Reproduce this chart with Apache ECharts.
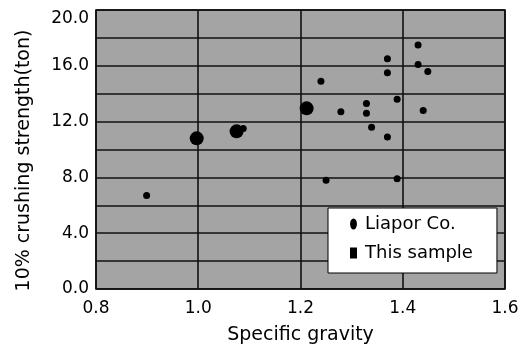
<!DOCTYPE html>
<html>
<head>
<meta charset="utf-8">
<script src="https://cdn.jsdelivr.net/npm/echarts@6/dist/echarts.min.js"></script>
<style>
  html, body { margin: 0; padding: 0; background: #fff; }
  #chart { width: 526px; height: 352px; }
</style>
</head>
<body>
<div id="chart"></div>
<script>
var myChart = echarts.init(document.getElementById("chart"));

// Liapor Co. (small dots)
var liaporX = [0.899, 1.088, 1.240, 1.250, 1.279, 1.329, 1.329, 1.339, 1.370, 1.370, 1.370, 1.389, 1.389, 1.430, 1.430, 1.440, 1.449];
var liaporY = [6.7, 11.5, 14.9, 7.8, 12.7, 13.3, 12.6, 11.6, 16.5, 15.5, 10.9, 13.6, 7.9, 17.5, 16.1, 12.8, 15.6];

// This sample (large dots)
var sampleX = [0.997, 1.075, 1.212];
var sampleY = [10.8, 11.3, 12.95];

var xTicks = [0.8, 1.0, 1.2, 1.4, 1.6];
var yTicks = [0, 4, 8, 12, 16, 20];

var pair = function(xs, ys) {
	var res = [];
	for (var i = 0; i < xs.length; i++) {
		res.push([xs[i], ys[i]]);
	}
	return res;
};

var ellipse = 'path://M5,0 A5,8 0 1,1 5,16 A5,8 0 1,1 5,0 Z';
var font = "DejaVu Sans";

var option = {
	backgroundColor: "#ffffff",
	animation: false,
	textStyle: { fontFamily: font },
	grid: {
		left: 96,
		right: 21,
		top: 10,
		bottom: 63,
		show: true,
		backgroundColor: "#a4a4a4",
		borderColor: "#000",
		borderWidth: 1.5
	},
	legend: {
		orient: "vertical",
		left: 328,
		top: 208,
		backgroundColor: "#fff",
		borderColor: "#000",
		borderWidth: 1,
		padding: [7, 24, 11, 22],
		itemGap: 11,
		itemWidth: 7,
		itemHeight: 11,
		textStyle: { fontFamily: font, fontSize: 18, color: "#000", padding: [0, 0, 0, 3] },
		data: [
			{ name: "Liapor Co.", icon: ellipse },
			{ name: "This sample", icon: "rect" }
		]
	},
	xAxis: {
		type: "value",
		min: 0.8,
		max: 1.6,
		interval: 0.2,
		name: "Specific gravity",
		nameLocation: "middle",
		nameGap: 37,
		nameTextStyle: { fontFamily: font, fontSize: 19, color: "#000" },
		axisLine: { show: false },
		axisTick: { show: false },
		axisLabel: {
			fontFamily: font, fontSize: 17, color: "#000", margin: 11,
			formatter: function(v) { return v.toFixed(1); }
		},
		splitLine: { show: true, lineStyle: { color: "#111", width: 1.6 } }
	},
	yAxis: {
		type: "value",
		min: 0,
		max: 20,
		interval: 2,
		name: "10% crushing strength(ton)",
		nameLocation: "middle",
		nameGap: 62,
		nameTextStyle: { fontFamily: font, fontSize: 19, color: "#000", padding: [0, 22, 0, 0] },
		axisLine: { show: false },
		axisTick: { show: false },
		axisLabel: {
			fontFamily: font, fontSize: 17, color: "#000", margin: 7,
			verticalAlignMaxLabel: "top",
			formatter: function(v) {
				return yTicks.indexOf(Math.round(v)) >= 0 && Math.abs(v - Math.round(v)) < 1e-6 ? v.toFixed(1) : "";
			}
		},
		splitLine: { show: true, lineStyle: { color: "#111", width: 1.6 } }
	},
	series: [
		{
			name: "Liapor Co.",
			type: "scatter",
			symbol: "circle",
			symbolSize: 7,
			itemStyle: { color: "#000", opacity: 1 },
			data: pair(liaporX, liaporY)
		},
		{
			name: "This sample",
			type: "scatter",
			symbol: "circle",
			symbolSize: 14,
			itemStyle: { color: "#000", opacity: 1 },
			data: pair(sampleX, sampleY)
		}
	]
};

myChart.setOption(option);
</script>
</body>
</html>
